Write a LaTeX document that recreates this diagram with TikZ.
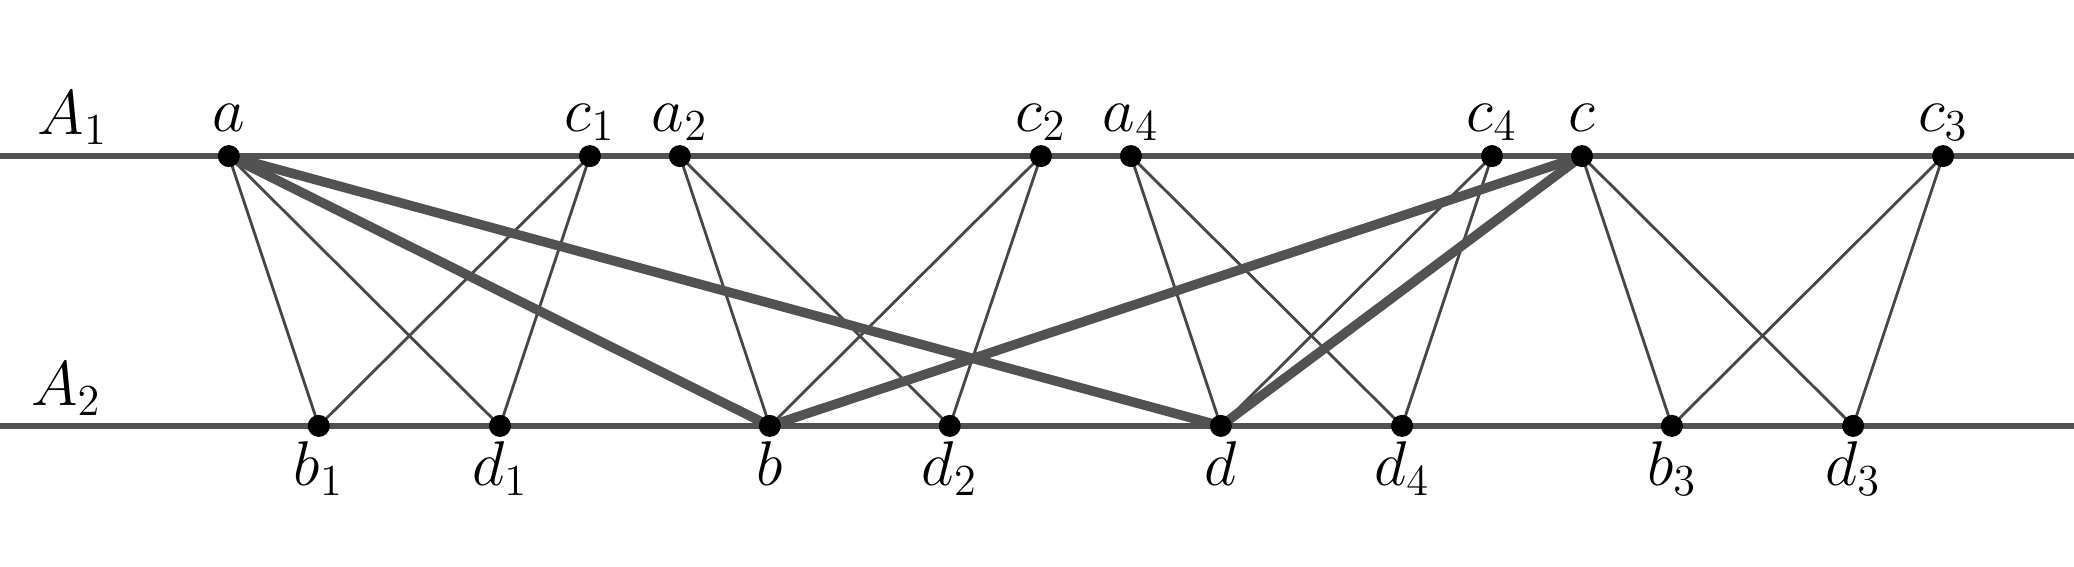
\RequirePackage{fix-cm}
\documentclass[tikz,border=0pt]{standalone}
\usetikzlibrary{backgrounds}

\begin{document}
\begin{tikzpicture}[x=0.013227cm, y=-0.013227cm,
  axis/.style={line width=1.5pt, draw=black!68},
  thin edge/.style={line width=0.8pt, draw=black!72},
  thick edge/.style={line width=2.7pt, draw=black!68},
  vtx/.style={circle, fill=black, inner sep=0pt, minimum size=0.22cm},
  every label/.style={font=\fontsize{18}{21}\selectfont, text height=1.6ex, text depth=0.3ex, inner sep=0pt},
  top/.style={label={[label distance=0.08cm]above:$#1$}},
  bot/.style={label={[label distance=0.23cm]below:$#1$}},
  setname/.style={font=\fontsize{18}{21}\selectfont}]
  \useasboundingbox (0,0) rectangle (1568,428);

  % the two lines
  \coordinate (L1) at (0,118);
  \coordinate (R1) at (1568,118);
  \coordinate (L2) at (0,322);
  \coordinate (R2) at (1568,322);
  \draw[axis] (L1) -- (R1);
  \draw[axis] (L2) -- (R2);
  \node[setname] (A1) at (55,89) {$A_1$};
  \node[setname] (A2) at (50,294) {$A_2$};

  % points on A_1
  \node[vtx, top=a] (a) at (173,118) {};
  \node[vtx, top=c_1] (c1) at (446,118) {};
  \node[vtx, top=a_2] (a2) at (514,118) {};
  \node[vtx, top=c_2] (c2) at (787,118) {};
  \node[vtx, top=a_4] (a4) at (855,118) {};
  \node[vtx, top=c_4] (c4) at (1128,118) {};
  \node[vtx, top=c] (c) at (1196,118) {};
  \node[vtx, top=c_3] (c3) at (1469,118) {};

  % points on A_2
  \node[vtx, bot=b_1] (b1) at (241,322) {};
  \node[vtx, bot=d_1] (d1) at (378,322) {};
  \node[vtx, bot=b] (b) at (582,322) {};
  \node[vtx, bot=d_2] (d2) at (718,322) {};
  \node[vtx, bot=d] (d) at (923,322) {};
  \node[vtx, bot=d_4] (d4) at (1060,322) {};
  \node[vtx, bot=b_3] (b3) at (1264,322) {};
  \node[vtx, bot=d_3] (d3) at (1401,322) {};

  % edges behind the points
  \begin{pgfonlayer}{background}
    \foreach \u/\v in {a/b1, a/d1, c1/b1, c1/d1, a2/b, a2/d2, c2/b, c2/d2,
                       a4/d, a4/d4, c4/d, c4/d4, c/b3, c/d3, c3/b3, c3/d3}
      \draw[thin edge] (\u.center) -- (\v.center);
    \foreach \u/\v in {a/b, a/d, c/b, c/d}
      \draw[thick edge] (\u.center) -- (\v.center);
  \end{pgfonlayer}
\end{tikzpicture}
\end{document}
